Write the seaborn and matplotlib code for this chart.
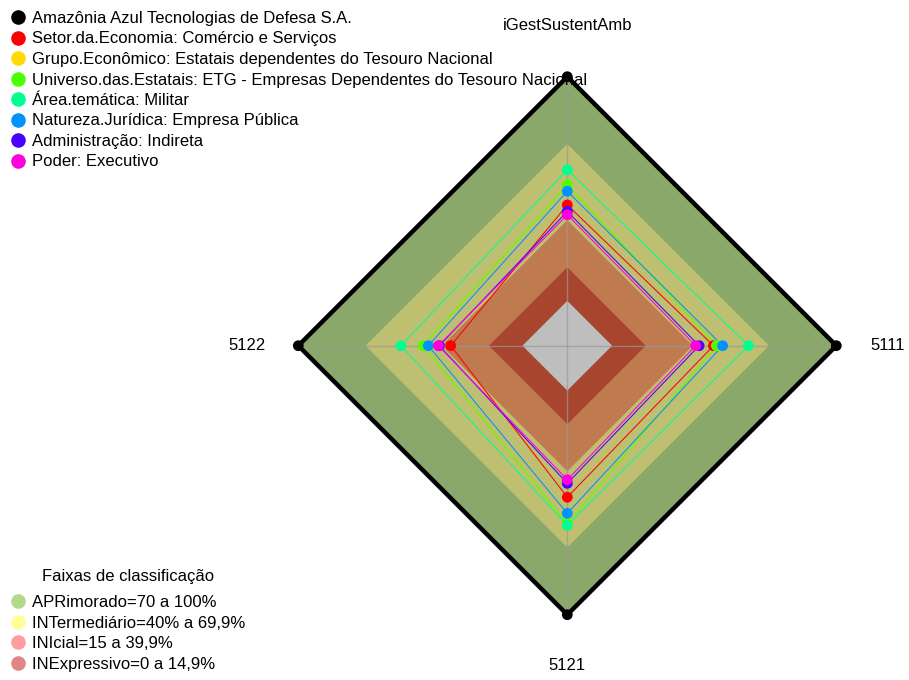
import numpy as np
import pandas as pd
import matplotlib
matplotlib.use("Agg")
import matplotlib.pyplot as plt
import seaborn as sns
from matplotlib.lines import Line2D

# ---- data -------------------------------------------------------------
axis_labels = ["iGestSustentAmb", "5111", "5121", "5122"]

series_names = [
    "Amazônia Azul Tecnologias de Defesa S.A.",
    "Setor.da.Economia: Comércio e Serviços",
    "Grupo.Econômico: Estatais dependentes do Tesouro Nacional",
    "Universo.das.Estatais: ETG - Empresas Dependentes do Tesouro Nacional",
    "Área.temática: Militar",
    "Natureza.Jurídica: Empresa Pública",
    "Administração: Indireta",
    "Poder: Executivo",
]
series_colors = ["#000000", "#FF0000", "#FFDB00", "#49FF00",
                 "#00FF92", "#0092FF", "#4900FF", "#FF00DB"]

amazul        = [100.0, 100.0, 100.0, 100.0]
setor         = [42.8, 45.2, 47.6, 32.0]
grupo         = [51.8, 46.6, 59.4, 44.2]
universo      = [51.8, 46.6, 59.4, 44.2]
area_tematica = [58.5, 60.8, 60.1, 54.2]
natureza      = [48.9, 49.3, 54.8, 42.0]
administracao = [39.9, 38.8, 41.4, 37.1]
poder         = [38.4, 37.3, 39.8, 37.5]
series_values = [amazul, setor, grupo, universo, area_tematica,
                 natureza, administracao, poder]

band_title = "Faixas de classificação"
band_names = ["APRimorado=70 a 100%", "INTermediário=40% a 69,9%",
              "INIcial=15 a 39,9%", "INExpressivo=0 a 14,9%"]
band_legend_colors = ["#B3D98A", "#FFFF99", "#FF9C9C", "#E08686"]
band_edges = [100, 70, 36, 15, 0]
band_fill_colors = ["#8AA86A", "#BFBF71", "#BF7A50", "#A8452E", "#BEBEBE"]

# ---- radar geometry ---------------------------------------------------
SEG = 5
angles = np.deg2rad(90 - 90 * np.arange(len(axis_labels)))


def radius(v):
    return (1 + SEG * np.asarray(v, dtype=float) / 100.0) / (SEG + 1)


def to_xy(values):
    r = radius(values)
    return r * np.cos(angles), r * np.sin(angles)


# ---- figure -----------------------------------------------------------
W, H = 909, 680
cx, cy, R = 567.3, 345.7, 269.0
fig = plt.figure(figsize=(W / 100, H / 100), dpi=100)
ax = fig.add_axes([0, 0, 1, 1])
ax.set_xlim(-cx / R, (W - cx) / R)
ax.set_ylim(-(H - cy) / R, cy / R)
ax.axis("off")

plt.rcParams["font.family"] = ["Liberation Sans", "DejaVu Sans"]
FS = 12

# classification bands, outermost first; innermost diamond is the area below 0
for edge, col in zip(band_edges, band_fill_colors):
    r = radius([edge] * 4)
    ax.fill(r * np.cos(angles), r * np.sin(angles), color=col, lw=0, zorder=1)

# spokes
for a in angles:
    ax.plot([0, np.cos(a)], [0, np.sin(a)], color="#9A9A9A", lw=1, alpha=0.7, zorder=2)

# series polygons and points
rows = []
for name, vals in zip(series_names, series_values):
    x, y = to_xy(vals)
    for xi, yi in zip(x, y):
        rows.append({"serie": name, "x": xi, "y": yi})
df = pd.DataFrame(rows)

for i, (name, col) in enumerate(zip(series_names, series_colors)):
    sub = df[df["serie"] == name]
    xs = np.append(sub["x"].values, sub["x"].values[0])
    ys = np.append(sub["y"].values, sub["y"].values[0])
    lw = 3.2 if i == 0 else 0.75
    ax.plot(xs, ys, color=col, lw=lw, zorder=3 + i * 0.1, solid_joinstyle="miter")

sns.scatterplot(data=df, x="x", y="y", hue="serie", palette=dict(zip(series_names, series_colors)),
                hue_order=series_names, s=60, linewidth=0, legend=False, ax=ax, zorder=5)

# axis labels
for a, lab in zip(angles, axis_labels):
    ax.text(1.19 * np.cos(a), 1.19 * np.sin(a), lab, ha="center", va="center",
            fontsize=FS, color="#000000")

# legends
h1 = [Line2D([], [], marker="o", ls="none", markersize=10.5, color=c, markeredgewidth=0)
      for c in series_colors]
fig.legend(h1, series_names, loc="upper left", bbox_to_anchor=(10 / W, 1 - 11 / H),
           frameon=False, fontsize=FS, handlelength=1.0, handletextpad=0.35,
           labelspacing=0.33, borderpad=0, borderaxespad=0)

h2 = [Line2D([], [], marker="o", ls="none", markersize=10.5, color=c, markeredgewidth=0)
      for c in band_legend_colors]
fig.legend(h2, band_names, loc="upper left", bbox_to_anchor=(10 / W, 1 - 595 / H),
           frameon=False, fontsize=FS, handlelength=1.0, handletextpad=0.35,
           labelspacing=0.33, borderpad=0, borderaxespad=0)
fig.text(128 / W, 1 - 576 / H, band_title, ha="center", va="center", fontsize=FS)

fig.savefig("out.png", dpi=100)
